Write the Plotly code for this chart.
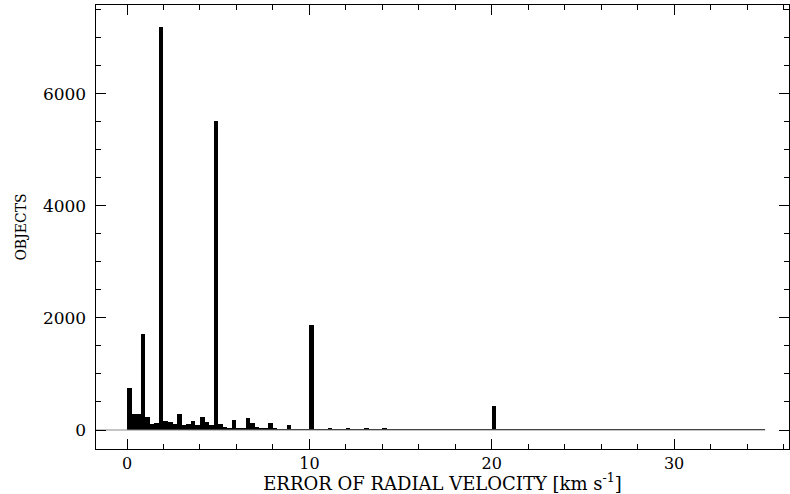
import numpy as np
import plotly.graph_objects as go

# Histogram of radial-velocity errors, bins of 0.25 km/s from 0 to 35
bin_width = 0.25
bin_left = np.arange(0, 35, bin_width)

counts = [
    745, 285, 285, 1720, 230, 100, 120, 7200, 160, 135, 115, 285, 95, 115, 165, 85, 235, 140, 85, 5520,
    110, 60, 40, 180, 40, 30, 210, 125, 60, 30, 20, 125, 20, 15, 15, 85, 15, 10, 10, 10,
    1870, 8, 8, 8, 30, 8, 8, 10, 30, 6, 6, 6, 20, 6, 6, 6, 20, 5, 5, 5,
    15, 5, 5, 5, 10, 4, 4, 4, 8, 4, 4, 4, 6, 4, 4, 4, 5, 4, 4, 4,
    420, 4, 4, 4, 5, 3, 3, 3, 4, 3, 3, 3, 4, 3, 3, 3, 4, 3, 3, 3,
    4, 3, 3, 3, 3, 3, 3, 3, 3, 3, 3, 3, 3, 3, 3, 3, 3, 3, 3, 3,
    3, 3, 3, 3, 3, 3, 3, 3, 3, 3, 3, 3, 3, 3, 3, 3, 3, 3, 3, 3,
]

x_range = [-1.7, 36.3]
y_range = [-339, 7584]
x_end = 35

centers = bin_left + bin_width / 2

fig = go.Figure()
fig.add_trace(go.Scatter(
    x=[x_range[0], x_end], y=[0, 0], mode="lines",
    line=dict(color="#8a8a8a", width=1), hoverinfo="skip", showlegend=False,
))
fig.add_trace(go.Bar(
    x=centers, y=counts, width=bin_width,
    marker=dict(color="black", line=dict(width=0)),
    showlegend=False,
))

font_family = "DejaVu Serif"
fig.update_layout(
    width=790, height=494,
    margin=dict(l=96, r=1, t=5, b=45),
    paper_bgcolor="white", plot_bgcolor="white",
    font=dict(family=font_family, color="black", size=14),
    bargap=0,
)
fig.update_xaxes(
    range=x_range, showgrid=False, zeroline=False,
    showline=True, linecolor="black", linewidth=1, mirror="allticks",
    ticks="inside", ticklen=10, tickcolor="black", tickwidth=1,
    tick0=0, dtick=10, tickfont=dict(size=16, family=font_family),
    minor=dict(ticks="inside", ticklen=5, dtick=2, tick0=0, tickcolor="black", showgrid=False),
    title=dict(text="ERROR OF RADIAL VELOCITY [km s<sup>-1</sup>]", font=dict(size=18, family=font_family), standoff=1),
)
fig.update_yaxes(
    range=y_range, showgrid=False, zeroline=False,
    showline=True, linecolor="black", linewidth=1, mirror="allticks",
    ticks="inside", ticklen=10, tickcolor="black", tickwidth=1,
    tick0=0, dtick=2000, tickformat="d", tickfont=dict(size=17, family=font_family),
    ticksuffix="\u00a0",
    minor=dict(ticks="inside", ticklen=5, dtick=500, tick0=0, tickcolor="black", showgrid=False),
    title=dict(text="OBJECTS", font=dict(size=14, family=font_family), standoff=13),
)

fig.write_html("out.html")
